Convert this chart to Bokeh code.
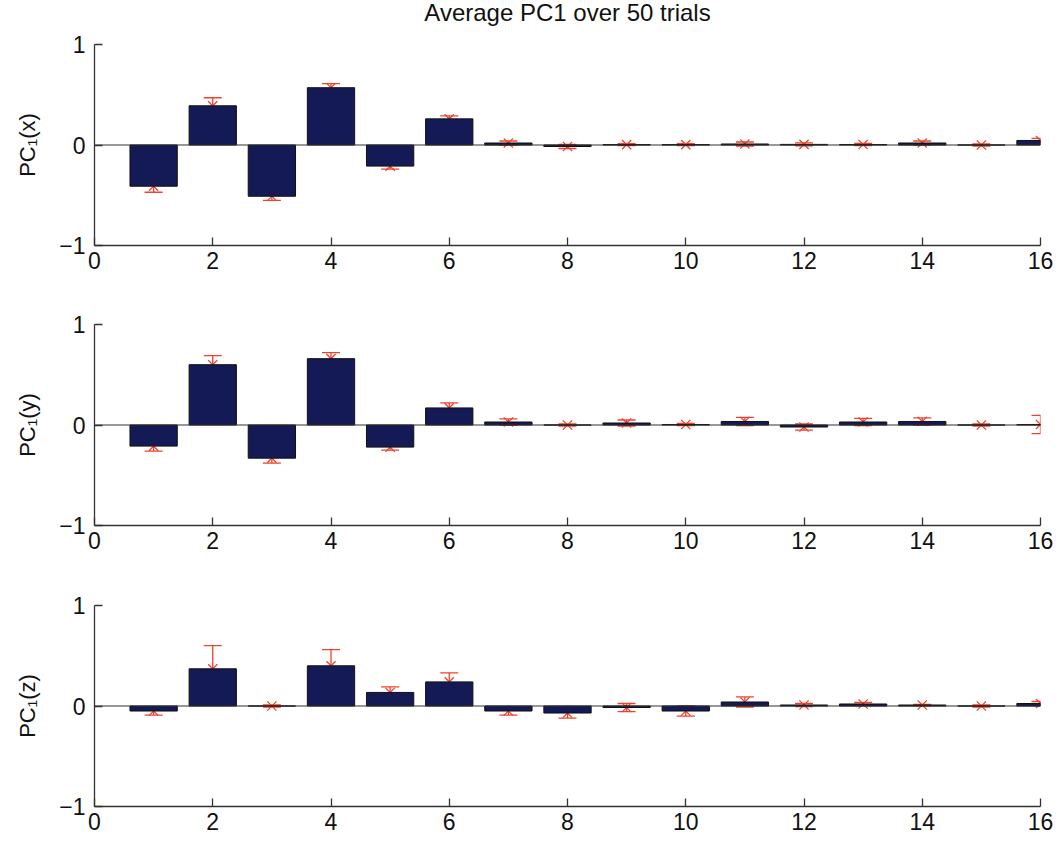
from bokeh.plotting import figure
from bokeh.models import Range1d, FixedTicker, Span, Whisker, TeeHead, ColumnDataSource
from bokeh.core.properties import value
from bokeh.layouts import column
from bokeh.embed import file_html
from bokeh.resources import INLINE

components = [1, 2, 3, 4, 5, 6, 7, 8, 9, 10, 11, 12, 13, 14, 15, 16]

pc_x_mean = [-0.41, 0.39, -0.51, 0.57, -0.21, 0.26, 0.02, -0.015, 0.004, 0.004, 0.01, 0.006, 0.005, 0.02, 0.0, 0.045]
pc_x_err = [0.06, 0.08, 0.04, 0.04, 0.03, 0.03, 0.02, 0.02, 0.01, 0.01, 0.02, 0.015, 0.01, 0.02, 0.01, 0.02]

pc_y_mean = [-0.21, 0.60, -0.33, 0.66, -0.22, 0.17, 0.03, 0.0, 0.02, 0.005, 0.035, -0.02, 0.03, 0.035, 0.0, 0.005]
pc_y_err = [0.05, 0.09, 0.05, 0.06, 0.03, 0.05, 0.03, 0.01, 0.03, 0.01, 0.04, 0.03, 0.035, 0.035, 0.01, 0.09]

pc_z_mean = [-0.05, 0.37, 0.0, 0.40, 0.135, 0.24, -0.05, -0.07, -0.015, -0.05, 0.04, 0.01, 0.02, 0.01, 0.0, 0.025]
pc_z_err = [0.04, 0.23, 0.01, 0.16, 0.055, 0.09, 0.04, 0.05, 0.04, 0.05, 0.05, 0.015, 0.015, 0.005, 0.01, 0.02]

y_labels = ["PC\u2081(x)", "PC\u2081(y)", "PC\u2081(z)"]
title_text = "Average PC1 over 50 trials"
x_ticks = [0, 2, 4, 6, 8, 10, 12, 14, 16]
y_ticks = [-1, 0, 1]

FONT = "Liberation Sans"
BAR = "#131a55"
RED = "#f0412c"
AX = "#333333"


def make_title(text):
    t = figure(output_backend="svg", toolbar_location=None,
               frame_width=946, frame_height=30,
               min_border_left=94, min_border_right=13,
               min_border_top=0, min_border_bottom=0,
               x_range=Range1d(0, 16), y_range=Range1d(-1, 1),
               x_axis_location=None, y_axis_location=None)
    t.outline_line_color = None
    t.xgrid.visible = False
    t.ygrid.visible = False
    t.text(x=[8], y=[0.2], text=[text], text_align="center",
           text_baseline="middle", text_font=value(FONT),
           text_font_size="24px", text_color="#111111")
    return t


def make_panel(mean, err, ylabel, top_border, bottom_border):
    p = figure(output_backend="svg", toolbar_location=None,
               frame_width=946, frame_height=201,
               min_border_left=94, min_border_right=13,
               min_border_top=top_border, min_border_bottom=bottom_border,
               x_range=Range1d(0, 16), y_range=Range1d(-1, 1))
    p.outline_line_color = None
    p.xgrid.visible = False
    p.ygrid.visible = False
    p.background_fill_color = "white"
    p.border_fill_color = "white"

    src = ColumnDataSource(dict(
        x=components, top=mean,
        upper=[m + e for m, e in zip(mean, err)],
        lower=[m - e for m, e in zip(mean, err)],
    ))

    w = Whisker(source=src, base="x", upper="upper", lower="lower",
                line_color=RED, line_width=1.3, level="underlay",
                upper_head=TeeHead(size=18, line_color=RED, line_width=1.3),
                lower_head=TeeHead(size=18, line_color=RED, line_width=1.3))
    p.add_layout(w)

    p.scatter("x", "top", source=src, marker="x", size=13,
              line_color=RED, line_width=1.3)
    p.vbar(x="x", top="top", bottom=0, width=0.8, source=src,
           fill_color=BAR, line_color="#111111", line_width=1)

    p.add_layout(Span(location=0, dimension="width", line_color=AX, line_width=1.2))

    for ax in (p.xaxis[0], p.yaxis[0]):
        ax.axis_line_color = AX
        ax.axis_line_width = 1.3
        ax.major_tick_line_color = AX
        ax.major_tick_line_width = 1.3
        ax.major_tick_in = 8
        ax.major_tick_out = 0
        ax.minor_tick_line_color = None
        ax.major_label_text_font = FONT
        ax.major_label_text_font_size = "23px"
        ax.major_label_text_color = "#111111"

    p.xaxis.ticker = FixedTicker(ticks=x_ticks)
    p.xaxis.major_label_standoff = 6
    p.yaxis.ticker = FixedTicker(ticks=y_ticks)
    p.yaxis.major_label_overrides = {-1: "\u22121"}
    p.yaxis.major_label_standoff = 9
    p.yaxis.axis_label = ylabel
    p.yaxis.axis_label_text_font = FONT
    p.yaxis.axis_label_text_font_size = "22px"
    p.yaxis.axis_label_text_font_style = "normal"
    p.yaxis.axis_label_text_color = "#111111"
    p.yaxis.axis_label_standoff = 16
    return p


t0 = make_title(title_text)
p1 = make_panel(pc_x_mean, pc_x_err, y_labels[0], 14, 40)
p2 = make_panel(pc_y_mean, pc_y_err, y_labels[1], 39, 40)
p3 = make_panel(pc_z_mean, pc_z_err, y_labels[2], 40, 28)

layout = column(t0, p1, p2, p3, spacing=0)

open("out.html", "w").write(file_html(layout, INLINE))
